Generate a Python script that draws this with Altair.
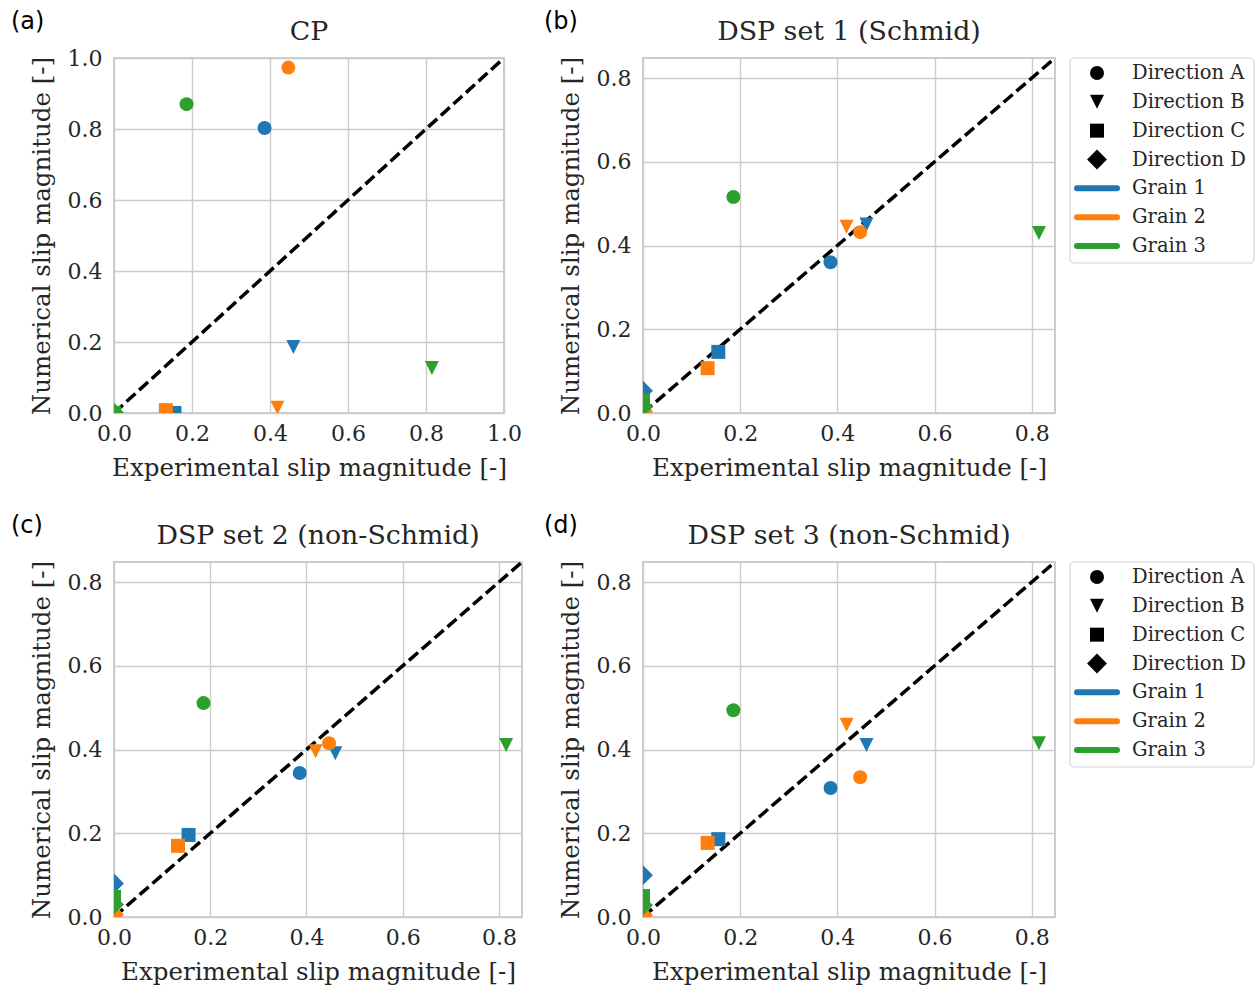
import altair as alt
import pandas as pd

# ---------------- data ----------------
grains = ["Grain 1", "Grain 2", "Grain 3"]
grain_colors = ["#1f77b4", "#ff7f0e", "#2ca02c"]
directions = ["Direction A", "Direction B", "Direction C", "Direction D"]
direction_shapes = ["circle", "M-1,-1L1,-1L0,1Z", "square", "M0,-1.42L1.42,0L0,1.42L-1.42,0Z"]

# experimental slip magnitude per grain, directions A..D
exp_grain1 = [0.386, 0.460, 0.155, 0.0]
exp_grain2 = [0.447, 0.419, 0.133, 0.0]
exp_grain3 = [0.186, 0.815, 0.0, 0.0]

# numerical slip magnitude per panel, per grain, directions A..D
cp_grain1 = [0.803, 0.186, 0.0, 0.0]
cp_grain2 = [0.973, 0.015, 0.008, 0.0]
cp_grain3 = [0.870, 0.127, 0.0, 0.0]

dsp1_grain1 = [0.360, 0.450, 0.146, 0.053]
dsp1_grain2 = [0.432, 0.445, 0.107, 0.004]
dsp1_grain3 = [0.516, 0.430, 0.030, 0.015]

dsp2_grain1 = [0.344, 0.391, 0.196, 0.080]
dsp2_grain2 = [0.415, 0.396, 0.170, 0.006]
dsp2_grain3 = [0.511, 0.411, 0.048, 0.030]

dsp3_grain1 = [0.308, 0.411, 0.186, 0.100]
dsp3_grain2 = [0.334, 0.459, 0.177, 0.005]
dsp3_grain3 = [0.494, 0.415, 0.050, 0.028]

panel_letters = ["(a)", "(b)", "(c)", "(d)"]
panel_titles = ["CP", "DSP set 1 (Schmid)", "DSP set 2 (non-Schmid)", "DSP set 3 (non-Schmid)"]
axis_max = [1.0, 0.848, 0.848, 0.848]
ticks_cp = [0.0, 0.2, 0.4, 0.6, 0.8, 1.0]
ticks_dsp = [0.0, 0.2, 0.4, 0.6, 0.8]

x_title = "Experimental slip magnitude [-]"
y_title = "Numerical slip magnitude [-]"

FONT = "DejaVu Serif"
TXT = "#262626"
GRID = "#cccccc"

exp_all = [exp_grain1, exp_grain2, exp_grain3]
num_panels = [
    [cp_grain1, cp_grain2, cp_grain3],
    [dsp1_grain1, dsp1_grain2, dsp1_grain3],
    [dsp2_grain1, dsp2_grain2, dsp2_grain3],
    [dsp3_grain1, dsp3_grain2, dsp3_grain3],
]

color_scale = alt.Scale(domain=grains, range=grain_colors)
shape_scale = alt.Scale(domain=directions, range=direction_shapes)


def make_legend(w):
    labels = directions + grains
    ldf = pd.DataFrame({"label": labels,
                        "kind": ["dir"] * len(directions) + ["grain"] * len(grains)})
    yenc = alt.Y("label:N", scale=alt.Scale(type="point", domain=labels, range=[15, 188], padding=0),
                 axis=None)
    frame = alt.Chart(pd.DataFrame({"f": [1]})).mark_rect(
        fill="white", stroke="#d6d6d6", strokeWidth=1.2, cornerRadius=4
    ).encode(x=alt.value(w + 15), x2=alt.value(w + 199), y=alt.value(0), y2=alt.value(205))
    syms = alt.Chart(ldf).transform_filter(alt.datum.kind == "dir").mark_point(
        filled=True, opacity=1, size=196, color="black"
    ).encode(x=alt.value(w + 42), y=yenc,
             shape=alt.Shape("label:N", scale=shape_scale, legend=None))
    lines = alt.Chart(ldf).transform_filter(alt.datum.kind == "grain").mark_rule(
        strokeWidth=6, strokeCap="round"
    ).encode(x=alt.value(w + 22), x2=alt.value(w + 62), y=yenc,
             color=alt.Color("label:N", scale=color_scale, legend=None))
    texts = alt.Chart(ldf).mark_text(
        align="left", baseline="middle", font=FONT, fontSize=19.5, color=TXT
    ).encode(x=alt.value(w + 77), y=yenc, text="label:N")
    return alt.layer(frame, syms, lines, texts)


def panel(i, width, with_legend):
    vmax = axis_max[i]
    ticks = ticks_cp if i == 0 else ticks_dsp
    rows = []
    k = 0
    for g in range(3):
        for d in range(4):
            rows.append({"exp": exp_all[g][d], "num": num_panels[i][g][d],
                         "grain": grains[g], "direction": directions[d], "idx": k})
            k += 1
    df = pd.DataFrame(rows)
    xenc = alt.X("exp:Q", scale=alt.Scale(domain=[0, vmax], nice=False, zero=False),
                 axis=alt.Axis(values=ticks, format=".1f", title=x_title))
    yenc = alt.Y("num:Q", scale=alt.Scale(domain=[0, vmax], nice=False, zero=False),
                 axis=alt.Axis(values=ticks, format=".1f", title=y_title))
    diag = alt.Chart(pd.DataFrame({"exp": [0, vmax], "num": [0, vmax]})).mark_line(
        color="black", strokeDash=[12, 5], strokeWidth=3.5, clip=True
    ).encode(x=xenc, y=yenc)
    pts = alt.Chart(df).mark_point(filled=True, opacity=1, size=196, clip=True).encode(
        x=xenc, y=yenc,
        color=alt.Color("grain:N", scale=color_scale, legend=None),
        shape=alt.Shape("direction:N", scale=shape_scale, legend=None),
        order=alt.Order("idx:Q"),
    )
    letter = alt.Chart(pd.DataFrame({"t": [panel_letters[i]]})).mark_text(
        font="DejaVu Sans", fontSize=24, align="left", baseline="middle", color="black"
    ).encode(text="t:N", x=alt.value(-103 if i in (0, 2) else -99), y=alt.value(-36))
    title = alt.Chart(pd.DataFrame({"t": [panel_titles[i]]})).mark_text(
        font=FONT, fontSize=26.8, align="center", baseline="middle", color=TXT
    ).encode(text="t:N", x=alt.value(width / 2), y=alt.value(-26))
    base = alt.layer(diag, pts, letter, title)
    if with_legend:
        ch = alt.layer(base, make_legend(width)).resolve_scale(y="independent")
    else:
        ch = base
    return ch.properties(width=width, height=355)


row1 = alt.hconcat(panel(0, 390, False), panel(1, 412, True), spacing=20)
row2 = alt.hconcat(panel(2, 408, False), panel(3, 412, True), spacing=20)
chart = alt.vconcat(row1, row2, spacing=32).properties(
    padding={"left": 10, "top": 9, "right": 0, "bottom": 0}
).configure_view(
    stroke=GRID, strokeWidth=2
).configure_axis(
    domain=False, ticks=False, grid=True, gridColor=GRID, gridWidth=1.4,
    labelFont=FONT, labelFontSize=22, labelColor=TXT, labelPadding=12,
    labelFlush=False, labelOverlap=False,
    titleFont=FONT, titleFontSize=24.5, titleFontWeight="normal", titleColor=TXT,
    titlePadding=13,
).configure_axisX(labelPadding=10, titlePadding=12)

chart.save("out.html", embed_options={"renderer": "svg", "actions": False})
